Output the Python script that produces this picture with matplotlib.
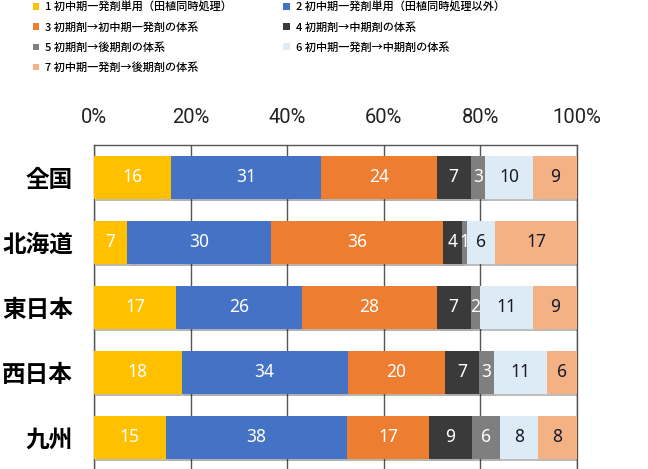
import numpy as np
import matplotlib
matplotlib.use("Agg")
import matplotlib.pyplot as plt
from matplotlib.patches import Patch
import matplotlib.patheffects as pe

plt.rcParams['font.family'] = ['Noto Sans CJK JP', 'DejaVu Sans']

regions = ['全国', '北海道', '東日本', '西日本', '九州']

series_names = [
    '1 初中期一発剤単用（田植同時処理）',
    '2 初中期一発剤単用（田植同時処理以外）',
    '3 初期剤→初中期一発剤の体系',
    '4 初期剤→中期剤の体系',
    '5 初期剤→後期剤の体系',
    '6 初中期一発剤→中期剤の体系',
    '7 初中期一発剤→後期剤の体系',
]

s1 = [16, 7, 17, 18, 15]
s2 = [31, 30, 26, 34, 38]
s3 = [24, 36, 28, 20, 17]
s4 = [7, 4, 7, 7, 9]
s5 = [3, 1, 2, 3, 6]
s6 = [10, 6, 11, 11, 8]
s7 = [9, 17, 9, 6, 8]

colors = ['#FFC000', '#4472C4', '#ED7D31', '#3A3A3A', '#7F7F7F', '#DDEBF7', '#F4B183']
text_colors = ['white', 'white', 'white', 'white', 'white', '#1a1a2e', '#1a1a2e']

series = [s1, s2, s3, s4, s5, s6, s7]
data = np.array(series, dtype=float)
share = data / data.sum(axis=0) * 100

fig = plt.figure(figsize=(6.48, 4.69), dpi=100)
ax = fig.add_axes([0.145, -0.002, 0.745, 0.693])

y = np.arange(len(regions))
left = np.zeros(len(regions))
shadow = [pe.SimplePatchShadow(offset=(1.5, -2), alpha=0.35), pe.Normal()]
for i, vals in enumerate(share):
    bars = ax.barh(y, vals, left=left, height=0.65, color=colors[i],
                   zorder=3, path_effects=shadow)
    ax.bar_label(bars, labels=[str(v) for v in series[i]], label_type='center',
                 color=text_colors[i], fontsize=12.5, family=['Noto Sans', 'DejaVu Sans'])
    left += vals

ax.set_xlim(0, 100)
ax.set_ylim(len(regions) - 0.5, -0.5)
ax.set_xticks(np.arange(0, 101, 20))
ax.set_xticklabels([f'{t}%' for t in range(0, 101, 20)], fontsize=14.5,
                   family=['Roboto', 'DejaVu Sans'], color='#222222')
ax.xaxis.tick_top()
ax.tick_params(axis='x', length=0, pad=13)
ax.set_yticks(y)
ax.set_yticklabels(regions, fontsize=17, fontweight='bold')
ax.tick_params(axis='y', length=0, pad=15)
ax.grid(axis='x', color='#555555', linewidth=1, zorder=0)
ax.set_axisbelow(True)
for sp in ['top', 'left', 'right']:
    ax.spines[sp].set_color('#555555')
    ax.spines[sp].set_linewidth(1)
ax.spines['bottom'].set_visible(False)

handles = [Patch(facecolor=c) for c in colors]
order = [0, 2, 4, 6, 1, 3, 5]
fig.legend([handles[k] for k in order], [series_names[k] for k in order],
           ncol=2, loc='upper left', bbox_to_anchor=(0.035, 1.018),
           frameon=False, prop={'size': 8.0, 'weight': 'medium'},
           handlelength=0.55, handleheight=0.55,
           handletextpad=0.6, columnspacing=4.6, labelspacing=0.85)

fig.savefig('out.png', dpi=100)
